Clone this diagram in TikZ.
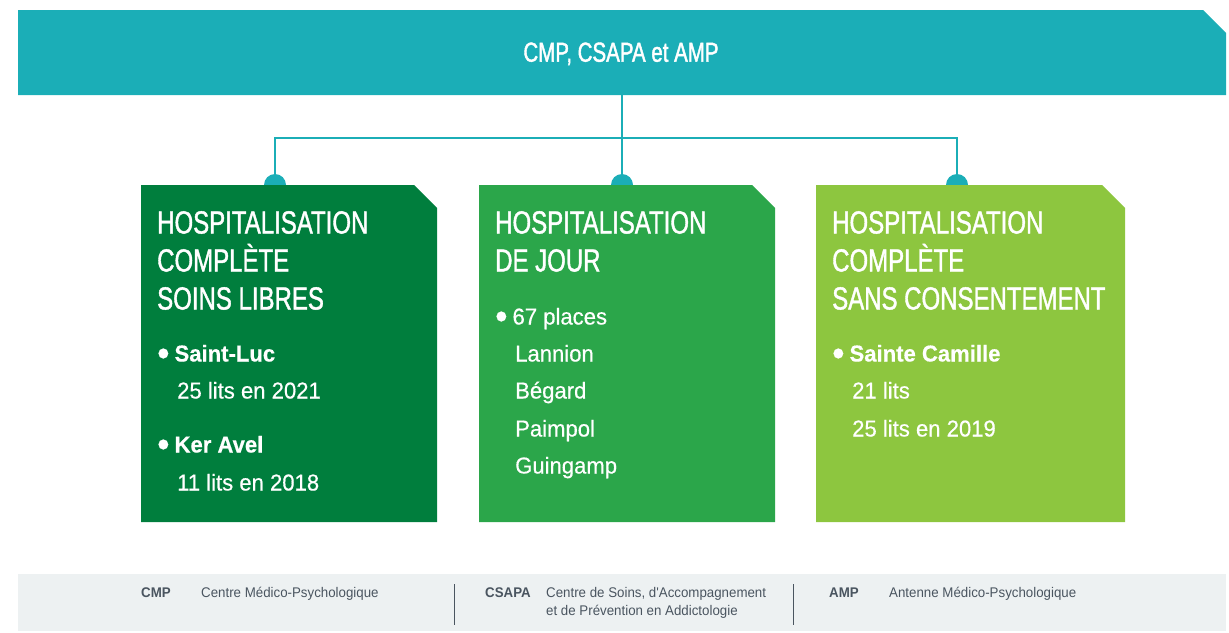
\documentclass[tikz,border=0pt]{standalone}
\usepackage{fontspec}
\setmainfont{Liberation Sans}
\newfontfamily\titlefont[FakeStretch=0.75,FakeBold=1.2]{Liberation Sans}
\newfontfamily\bodyfont[FakeStretch=0.96,FakeBold=0.5]{Liberation Sans}
\newfontfamily\bannerfont[FakeStretch=0.745,FakeBold=1.5]{Liberation Sans}
\newfontfamily\footfont[FakeStretch=0.95]{Liberation Sans}
\definecolor{bannerteal}{HTML}{1BAEB7}
\definecolor{darkgreen}{HTML}{007E3D}
\definecolor{midgreen}{HTML}{2BA64A}
\definecolor{limegreen}{HTML}{8DC63F}
\definecolor{footbg}{HTML}{EDF1F2}
\definecolor{foottext}{HTML}{4A5560}
\newcommand{\bul}{\raisebox{-4.2pt}{\scalebox{1.6}{•}}\hspace{5pt}}
\tikzset{
  conn/.style={draw=bannerteal, line width=2pt},
  dot/.style={fill=bannerteal},
  title/.style={font=\titlefont\fontsize{32}{32}\selectfont, text=white, anchor=base west, inner sep=0pt},
  body/.style={font=\bodyfont\fontsize{23}{23}\selectfont, text=white, anchor=base west, inner sep=0pt},
  foot/.style={font=\footfont\fontsize{14}{14}\selectfont, text=foottext, anchor=base west, inner sep=0pt},
  sepline/.style={draw=foottext, line width=1pt}
}
\begin{document}
\begin{tikzpicture}[x=1pt,y=-1pt]
\useasboundingbox (0,0) rectangle (1229,632);
% footer band
\fill[footbg] (18,574) rectangle (1226,631);
% banner
\fill[bannerteal] (18,10) -- (1203,10) -- (1226,33) -- (1226,95) -- (18,95) -- cycle;
\node[font=\bannerfont\fontsize{27.5}{27.5}\selectfont, text=white, anchor=base, inner sep=0pt] (banner) at (621,61.7) {CMP, CSAPA et AMP};
% connector coordinates
\coordinate (top) at (622,95);
\coordinate (j1) at (275,138);
\coordinate (j3) at (957,138);
\coordinate (d1) at (275,185);
\coordinate (d2) at (622,185);
\coordinate (d3) at (957,185);
\draw[conn] (top) -- (d2);
\draw[conn] (d1) -- (j1) -- (j3) -- (d3);
\fill[dot] (d1) circle (11);
\fill[dot] (d2) circle (11);
\fill[dot] (d3) circle (11);
% boxes
\fill[darkgreen] (141,185) -- (414,185) -- (437,208) -- (437,522) -- (141,522) -- cycle;
\fill[midgreen] (479,185) -- (752,185) -- (775,208) -- (775,522) -- (479,522) -- cycle;
\fill[limegreen] (816,185) -- (1102,185) -- (1125,208) -- (1125,522) -- (816,522) -- cycle;
% box 1 texts
\node[title] (t11) at (157,233.5) {HOSPITALISATION};
\node[title] (t12) at (157,271.5) {COMPLÈTE};
\node[title] (t13) at (157,309.5) {SOINS LIBRES};
\node[body] (b11) at (157,361.5) {\bul\textbf{Saint-Luc}};
\node[body] (b12) at (177,398.5) {25 lits en 2021};
\node[body] (b13) at (157,452.5) {\bul\textbf{Ker Avel}};
\node[body] (b14) at (177,490.5) {11 lits en 2018};
% box 2 texts
\node[title] (t21) at (495,233.5) {HOSPITALISATION};
\node[title] (t22) at (495,271.5) {DE JOUR};
\node[body] (b21) at (495,324.5) {\bul 67 places};
\node[body] (b22) at (515,361.5) {Lannion};
\node[body] (b23) at (515,398.5) {Bégard};
\node[body] (b24) at (515,436.5) {Paimpol};
\node[body] (b25) at (515,473.5) {Guingamp};
% box 3 texts
\node[title] (t31) at (832,233.5) {HOSPITALISATION};
\node[title] (t32) at (832,271.5) {COMPLÈTE};
\node[title] (t33) at (832,309.5) {SANS CONSENTEMENT};
\node[body] (b31) at (832,361.5) {\bul\textbf{Sainte Camille}};
\node[body] (b32) at (852,398.5) {21 lits};
\node[body] (b33) at (852,436.5) {25 lits en 2019};
% footer
\node[foot] (f1) at (141,597) {\textbf{CMP}};
\node[foot] (f2) at (201,597) {Centre Médico-Psychologique};
\coordinate (s1a) at (454,584);
\coordinate (s1b) at (454,625);
\draw[sepline] (s1a) -- (s1b);
\node[foot] (f3) at (485,597) {\textbf{CSAPA}};
\node[foot] (f4) at (546,597) {Centre de Soins, d'Accompagnement};
\node[foot] (f5) at (546,615) {et de Prévention en Addictologie};
\coordinate (s2a) at (793,584);
\coordinate (s2b) at (793,625);
\draw[sepline] (s2a) -- (s2b);
\node[foot] (f6) at (829,597) {\textbf{AMP}};
\node[foot] (f7) at (889,597) {Antenne Médico-Psychologique};
\end{tikzpicture}
\end{document}
